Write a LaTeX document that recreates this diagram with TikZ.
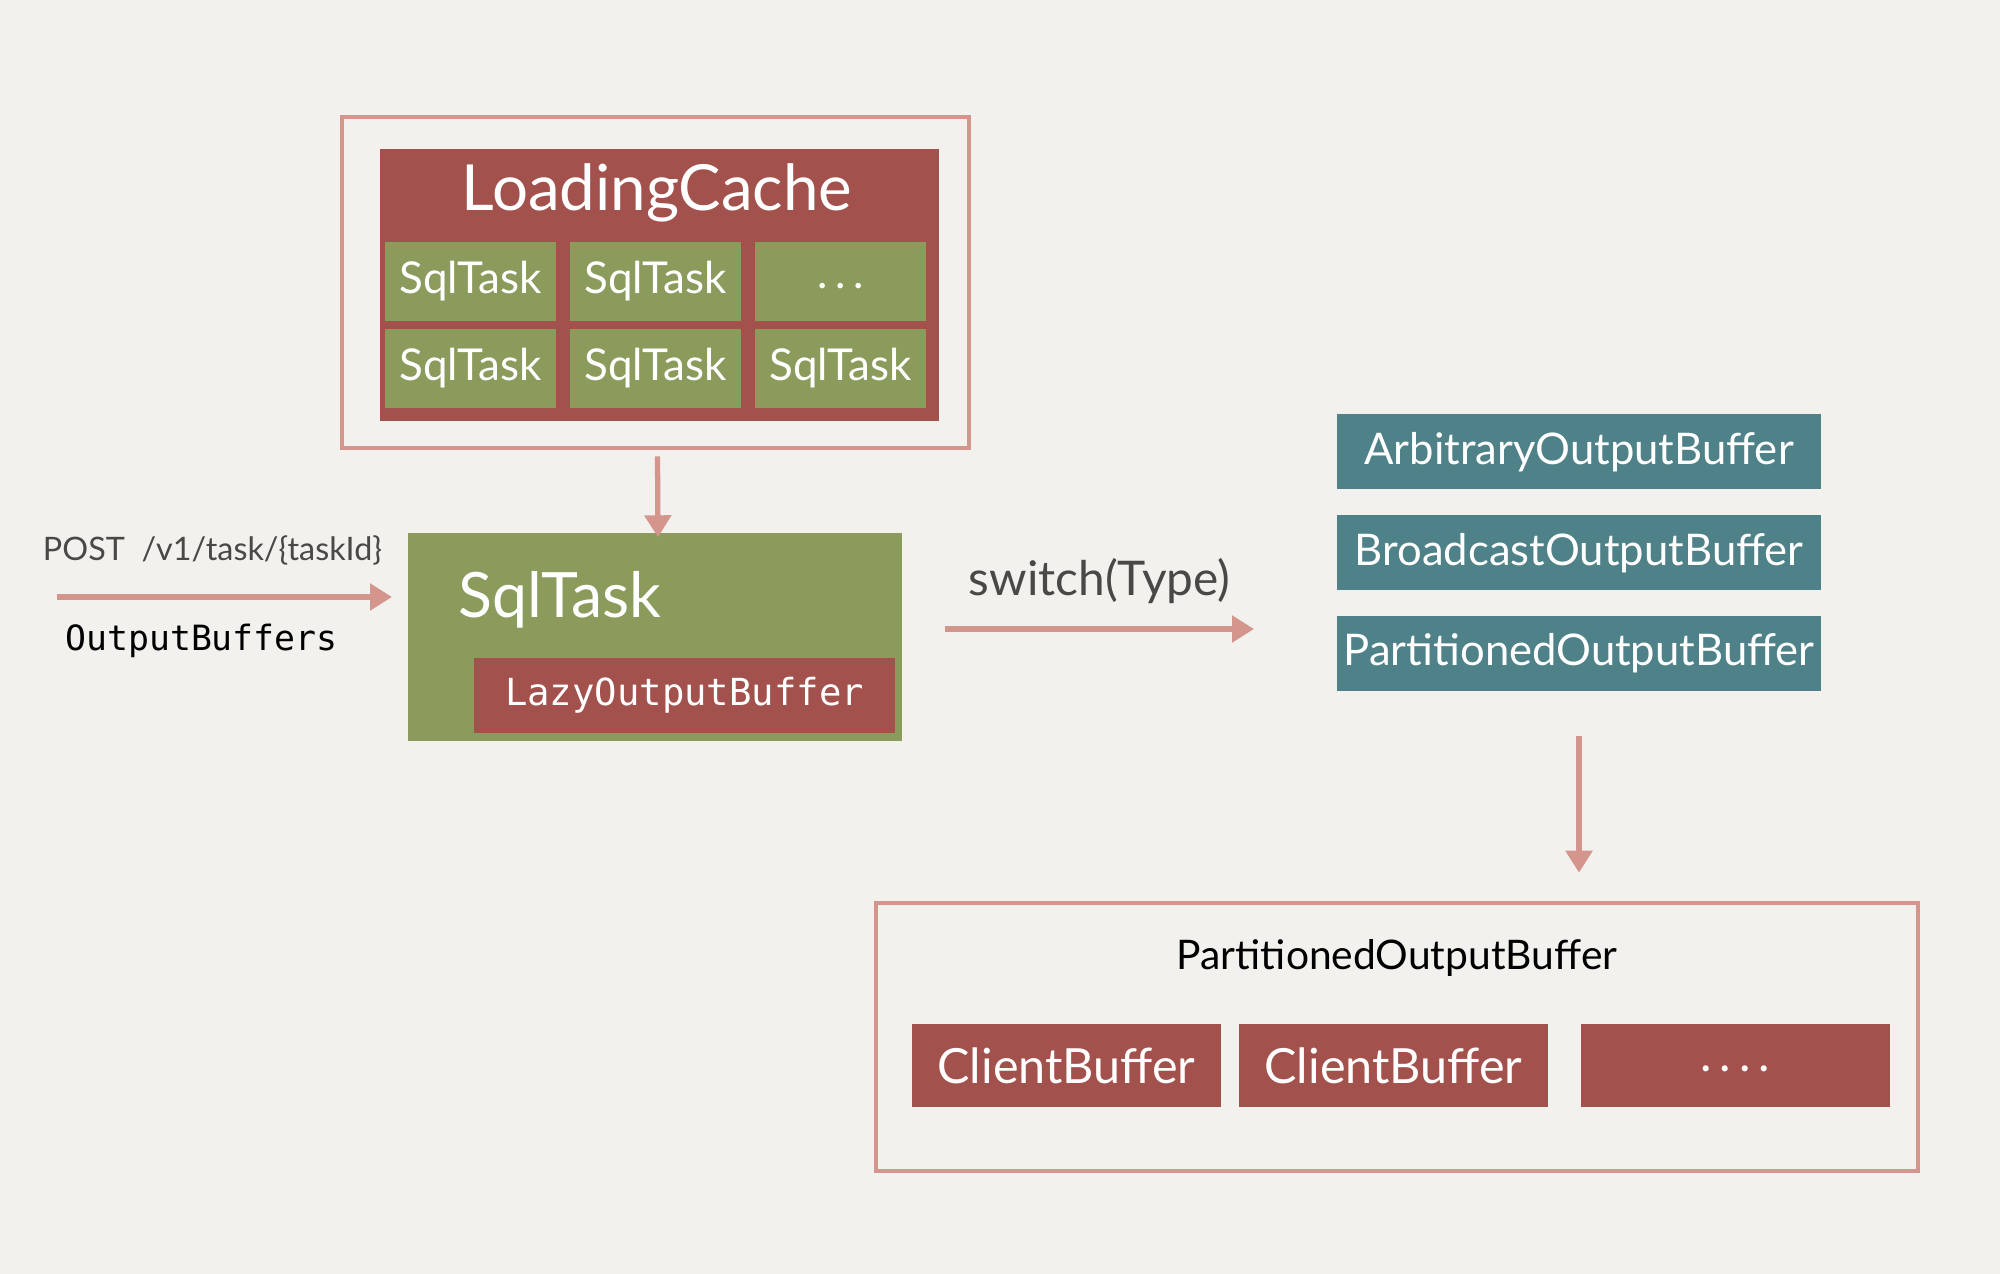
\documentclass[tikz,border=0pt]{standalone}
\usepackage{fontspec}
\setmainfont{Lato}
\setmonofont{DejaVu Sans Mono}
\usepackage{tikz}
\usetikzlibrary{calc,arrows.meta,positioning}

\definecolor{paper}{HTML}{F2F1EE}
\definecolor{brick}{HTML}{A2514D}
\definecolor{olive}{HTML}{8A9B5C}
\definecolor{teal}{HTML}{4F8188}
\definecolor{rose}{HTML}{D4958C}
\definecolor{ink}{HTML}{4A4846}

\tikzset{
  frame/.style={draw=rose,line width=1.3pt,inner sep=0pt},
  redbox/.style={fill=brick,inner sep=0pt,text=white},
  greenbox/.style={fill=olive,inner sep=0pt,text=white},
  tealbox/.style={fill=teal,inner sep=0pt,text=white,minimum width=4.84cm,minimum height=0.75cm,
    font=\fontsize{12.4}{15}\selectfont},
  cell/.style={greenbox,minimum width=1.71cm,minimum height=0.79cm,font=\fontsize{12.5}{15}\selectfont},
  clientbox/.style={redbox,minimum width=3.09cm,minimum height=0.83cm,font=\fontsize{13.8}{17}\selectfont},
  flow/.style={draw=rose,line width=1.5pt,-{Triangle[length=0.22cm,width=0.26cm]}}
}

\begin{document}
\begin{tikzpicture}
        \useasboundingbox[fill=paper] (0,0) rectangle (20,-12.74);

        \node[frame,minimum width=6.27cm,minimum height=3.31cm] (cacheframe) at (6.555,-2.825) {};
        \node[redbox,minimum width=5.59cm,minimum height=2.72cm] (cache) at (6.595,-2.85) {};
        \node[text=white,font=\fontsize{18.1}{22}\selectfont] (cachetitle) at (6.57,-1.93) {LoadingCache};
        \node[cell] (c11) at (4.705,-2.815) {SqlTask};
        \node[cell] (c12) at (6.555,-2.815) {SqlTask};
        \node[cell] (c13) at (8.405,-2.815) {\raisebox{-0.6ex}{.\,.\,.}};
        \node[cell] (c21) at (4.705,-3.685) {SqlTask};
        \node[cell] (c22) at (6.555,-3.685) {SqlTask};
        \node[cell] (c23) at (8.405,-3.685) {SqlTask};

        \node[greenbox,minimum width=4.94cm,minimum height=2.08cm] (task) at (6.55,-6.37) {};
        \node[text=white,font=\fontsize{17.8}{21}\selectfont,anchor=west] (tasktitle) at (4.46,-6.0) {SqlTask};
        \node[redbox,minimum width=4.21cm,minimum height=0.75cm,font=\ttfamily\fontsize{10.6}{13}\selectfont] (lazy) at (6.845,-6.955) {LazyOutputBuffer};

        \node[text=ink,font=\fontsize{9.2}{11}\selectfont] (post) at (2.125,-5.5) {POST\ \ /v1/task/\{taskId\}};
        \node[font=\ttfamily\fontsize{9.9}{12}\selectfont] (buffers) at (2.015,-6.41) {OutputBuffers};
        \coordinate (postin) at (0.57,-5.97);
        \coordinate (postout) at (3.92,-5.97);

        \node[text=ink,font=\fontsize{13.6}{16}\selectfont] (switch) at (10.995,-5.81) {switch(Type)};
        \coordinate (switchin) at (9.45,-6.29);
        \coordinate (switchout) at (12.54,-6.29);

        \node[tealbox] (arbitrary) at (15.79,-4.52) {ArbitraryOutputBuffer};
        \node[tealbox] (broadcast) at (15.79,-5.53) {BroadcastOutputBuffer};
        \node[tealbox] (partitioned) at (15.79,-6.535) {PartitionedOutputBuffer};

        \node[frame,minimum width=10.42cm,minimum height=2.68cm] (pframe) at (13.97,-10.37) {};
        \node[font=\fontsize{11.6}{14}\selectfont] (ptitle) at (13.97,-9.58) {PartitionedOutputBuffer};
        \node[clientbox] (client1) at (10.665,-10.655) {ClientBuffer};
        \node[clientbox] (client2) at (13.935,-10.655) {ClientBuffer};
        \node[clientbox] (client3) at (17.35,-10.655) {\raisebox{-0.5ex}{.\,.\,.\,.}};

        \draw[flow] (cacheframe.south) ++(0.02,-0.06) -- ($(task.north)+(0.03,-0.05)$);
        \draw[flow] (postin) -- (postout);
        \draw[flow] (switchin) -- (switchout);
        \draw[flow,shorten <=0.44cm,shorten >=0.28cm] (partitioned.south) -- (partitioned.south |- pframe.north);
\end{tikzpicture}
\end{document}
